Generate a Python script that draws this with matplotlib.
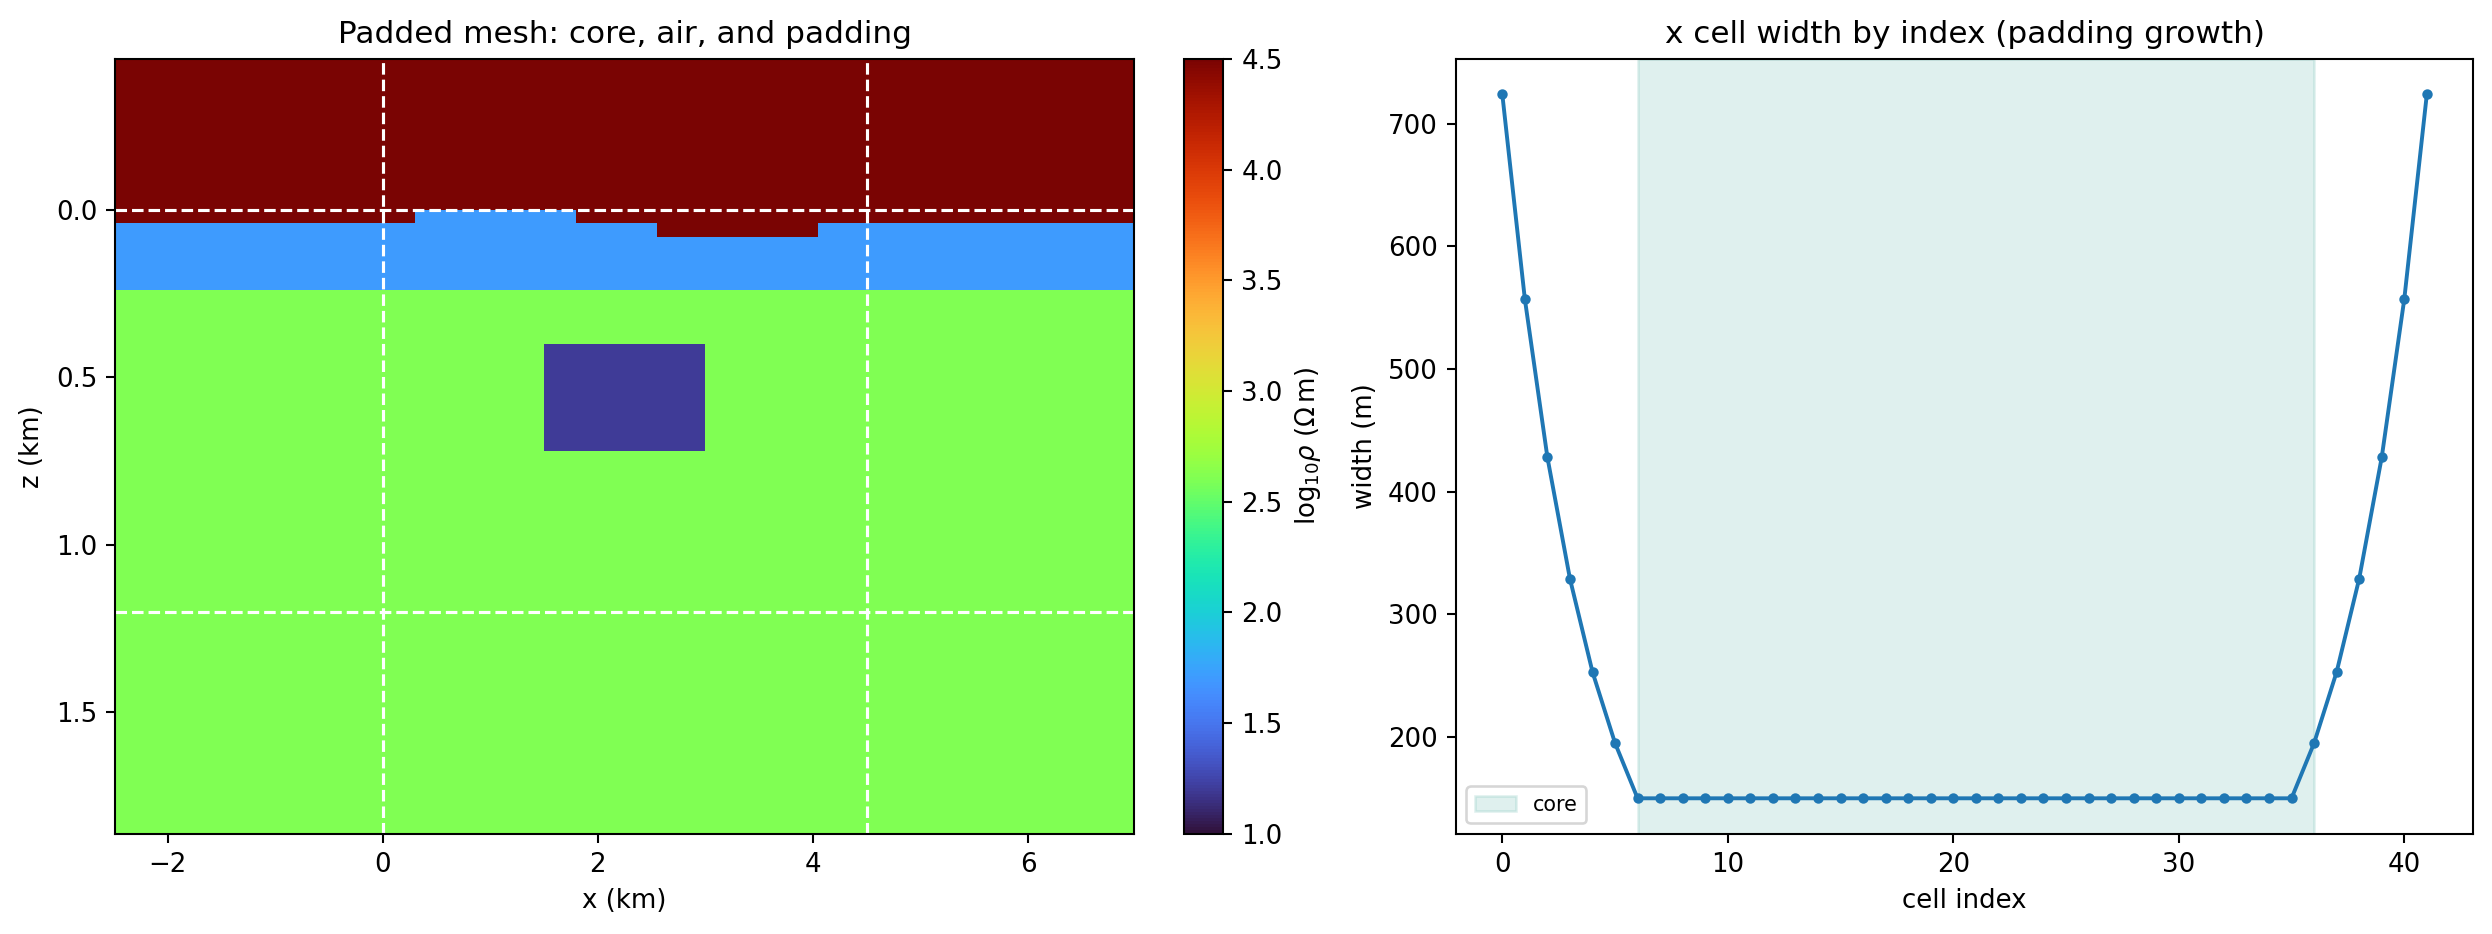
import numpy as np
import matplotlib
matplotlib.use("Agg")
import matplotlib.pyplot as plt

# x cell widths (m), left padding -> core -> right padding
pad_dx = [724, 557, 428, 329, 253, 195]
core_dx = [150] * 30
x_widths = pad_dx + core_dx + pad_dx[::-1]
x_origin_km = -2.487

# z cell widths (m), air (top -> down), core, bottom padding
air_dz = [141, 110, 80, 60, 40, 20]
core_dz = [40] * 30
bot_dz = [52, 68, 88, 114, 148, 193]

# topography: surface depth (km) between x breaks (km)
topo_x_breaks = [0.3, 1.8, 2.55, 4.05]
topo_depth = [0.04, 0.0, 0.04, 0.08, 0.04]
cover_base = 0.24
block_x = (1.5, 3.0)
block_z = (0.40, 0.72)

log_air = 8.0
log_cover = 1.7
log_host = 2.6
log_block = 1.2

core_x = (0.0, 4.5)
core_zmax = 1.2

# build mesh
xe = x_origin_km + np.concatenate([[0], np.cumsum(x_widths)]) / 1000.0
ze = np.concatenate([[-sum(air_dz)], -sum(air_dz) + np.cumsum(air_dz + core_dz + bot_dz)]) / 1000.0
xc = 0.5 * (xe[:-1] + xe[1:])
zc = 0.5 * (ze[:-1] + ze[1:])
XC, ZC = np.meshgrid(xc, zc)

surf = np.array(topo_depth)[np.searchsorted(topo_x_breaks, xc)]
model = np.full(XC.shape, log_host)
model[ZC < cover_base] = log_cover
model[ZC < surf[None, :]] = log_air
inblock = (XC > block_x[0]) & (XC < block_x[1]) & (ZC > block_z[0]) & (ZC < block_z[1])
model[inblock] = log_block

dpi = 187
fig = plt.figure(figsize=(2492 / dpi, 934 / dpi), dpi=dpi)
ax1 = fig.add_axes([0.0463, 0.1076, 0.4087, 0.8292])
cax = fig.add_axes([0.4750, 0.1076, 0.0158, 0.8292])
ax2 = fig.add_axes([0.5843, 0.1076, 0.4081, 0.8292])

pm = ax1.pcolormesh(xe, ze, model, cmap="turbo", vmin=1.0, vmax=4.5, shading="flat")
ax1.set_xlim(xe[0], xe[-1])
ax1.set_ylim(ze[-1], ze[0])
for xv in core_x:
    ax1.axvline(xv, color="w", ls="--", lw=1.2)
ax1.axhline(0.0, color="w", ls="--", lw=1.2)
ax1.axhline(core_zmax, color="w", ls="--", lw=1.2)
ax1.set_xlabel("x (km)")
ax1.set_ylabel("z (km)")
ax1.set_title("Padded mesh: core, air, and padding")
cb = fig.colorbar(pm, cax=cax)
cb.set_label(r"log$_{10}\rho$ ($\Omega\,$m)")

idx = np.arange(len(x_widths))
ax2.axvspan(len(pad_dx), len(pad_dx) + len(core_dx), color="#2a9d8f", alpha=0.15, label="core")
ax2.plot(idx, x_widths, "-o", color="tab:blue", ms=3)
ax2.set_xlabel("cell index")
ax2.set_ylabel("width (m)")
ax2.set_title("x cell width by index (padding growth)")
ax2.legend(loc="lower left", fontsize=8)

fig.savefig("out.png", dpi=dpi)
